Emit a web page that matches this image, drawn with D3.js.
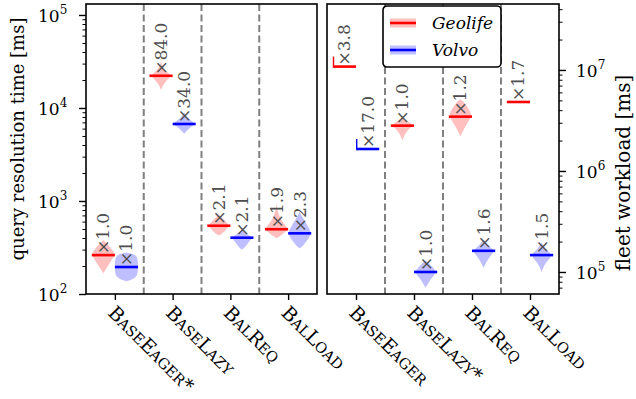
<!DOCTYPE html>
<html>
<head>
<meta charset="utf-8">
<script src="https://cdn.jsdelivr.net/npm/d3@7"></script>
<style>
  html, body { margin: 0; padding: 0; background: #fff; }
  svg { display: block; font-family: "DejaVu Serif", serif; }
</style>
</head>
<body>
<svg id="chart" width="636" height="399"></svg>
<script>
// --- Data ---

const series = ["Geolife", "Volvo"];
const queryCategories = ["BaseEager*", "BaseLazy", "BalReq", "BalLoad"];
const fleetCategories = ["BaseEager", "BaseLazy*", "BalReq", "BalLoad"];

// median query resolution time [ms]
const queryMedianGeolife = [262, 22200, 542, 497];
const queryMedianVolvo = [195, 6730, 403, 449];
const queryLabelGeolife = ["1.0", "84.0", "2.1", "1.9"];
const queryLabelVolvo = ["1.0", "34.0", "2.1", "2.3"];

// median fleet workload [ms]
const fleetMedianGeolife = [1.08e7, 2.81e6, 3.45e6, 4.82e6];
const fleetMedianVolvo = [1.65e6, 1.0e5, 1.62e5, 1.47e5];
const fleetLabelGeolife = ["3.8", "1.0", "1.2", "1.7"];
const fleetLabelVolvo = ["17.0", "1.0", "1.6", "1.5"];

// violin outlines: [value, relative half width]
const queryViolinGeolife = [
  [[380, 0], [330, 0.5], [280, 0.95], [262, 1], [230, 0.7], [200, 0.4], [178, 0.15], [168, 0]],
  [[32000, 0], [28000, 0.1], [25000, 0.4], [22500, 0.9], [21000, 0.7], [19000, 0.35], [17000, 0.1], [15500, 0]],
  [[720, 0], [650, 0.3], [560, 0.9], [520, 0.8], [470, 0.5], [440, 0.2], [425, 0]],
  [[950, 0], [750, 0.1], [620, 0.4], [520, 0.9], [490, 1], [450, 0.6], [420, 0.3], [400, 0]],
];
const queryViolinVolvo = [
  [[280, 0], [270, 0.6], [255, 0.9], [230, 1], [180, 1], [160, 0.95], [146, 0.7], [137, 0]],
  [[9000, 0], [8000, 0.2], [7000, 0.8], [6700, 1], [6300, 0.6], [5800, 0.3], [5300, 0]],
  [[500, 0], [450, 0.3], [410, 0.9], [390, 0.8], [350, 0.5], [320, 0.3], [300, 0]],
  [[760, 0], [650, 0.3], [560, 0.6], [470, 1], [420, 0.9], [370, 0.6], [330, 0.3], [310, 0]],
];
const fleetViolinGeolife = [
  null,
  [[3.4e6, 0], [3.0e6, 0.6], [2.8e6, 1], [2.6e6, 0.5], [2.3e6, 0.2], [2.0e6, 0]],
  [[5.1e6, 0], [4.7e6, 0.4], [4.0e6, 0.8], [3.5e6, 1], [3.0e6, 0.6], [2.6e6, 0.3], [2.2e6, 0]],
  null,
];
const fleetViolinVolvo = [
  null,
  [[1.3e5, 0], [1.15e5, 0.5], [1.0e5, 1], [9e4, 0.6], [8e4, 0.3], [7e4, 0]],
  [[2.1e5, 0], [1.8e5, 0.4], [1.62e5, 1], [1.45e5, 0.6], [1.3e5, 0.3], [1.1e5, 0]],
  [[1.95e5, 0], [1.65e5, 0.4], [1.47e5, 1], [1.3e5, 0.5], [1.15e5, 0.2], [1.0e5, 0]],
];
// single-run entries drawn as a short upright stroke
const fleetSingleRun = [true, false, false, false];

// --- Style ---

const LINE_COLORS = { Geolife: "#ff0000", Volvo: "#0000ff" };
const FILL_COLORS = { Geolife: "#ffbfbf", Volvo: "#bfbfff" };

const svg = d3.select("#chart");
const plotTop = 4, plotBottom = 294;

const panels = [
  {
    x0: 86, x1: 317, side: "left",
    categories: queryCategories,
    domain: [1e2, Math.pow(10, 5.118)],
    majors: [2, 3, 4, 5],
    medians: [queryMedianGeolife, queryMedianVolvo],
    labels: [queryLabelGeolife, queryLabelVolvo],
    violins: [queryViolinGeolife, queryViolinVolvo],
    single: [false, false, false, false],
    title: "query resolution time [ms]",
    titleX: 24, titleY: 139, titleSize: 18,
  },
  {
    x0: 327, x1: 559, side: "right",
    categories: fleetCategories,
    domain: [Math.pow(10, 4.782), Math.pow(10, 7.653)],
    majors: [5, 6, 7],
    medians: [fleetMedianGeolife, fleetMedianVolvo],
    labels: [fleetLabelGeolife, fleetLabelVolvo],
    violins: [fleetViolinGeolife, fleetViolinVolvo],
    single: fleetSingleRun,
    title: "fleet workload [ms]",
    titleX: 630, titleY: 173, titleSize: 20,
  },
];

panels.forEach(drawPanel);
drawLegend();

function minorTicks(domain) {
  const out = [];
  const lo = Math.floor(Math.log10(domain[0])), hi = Math.ceil(Math.log10(domain[1]));
  for (let e = lo; e <= hi; e++) {
    for (let k = 2; k <= 9; k++) {
      const v = k * Math.pow(10, e);
      if (v >= domain[0] && v <= domain[1]) out.push(v);
    }
  }
  return out;
}

// split a name into runs for hand-made small caps
function smallCapsRuns(name) {
  const runs = [];
  for (const ch of name) {
    const small = ch >= "a" && ch <= "z";
    const last = runs[runs.length - 1];
    if (last && last.small === small) last.text += small ? ch.toUpperCase() : ch;
    else runs.push({ small, text: small ? ch.toUpperCase() : ch });
  }
  return runs;
}

function drawPanel(p) {
  const x = d3.scaleLinear().domain([-0.5, 3.5]).range([p.x0, p.x1]);
  const y = d3.scaleLog().domain(p.domain).range([plotBottom, plotTop]);
  const step = x(1) - x(0);
  const hw = 0.2 * step;
  const g = svg.append("g");

  // separators
  g.append("g")
    .selectAll("line")
    .data([0.5, 1.5, 2.5])
    .join("line")
    .attr("x1", (d) => x(d)).attr("x2", (d) => x(d))
    .attr("y1", plotTop).attr("y2", plotBottom)
    .attr("stroke", "#808080")
    .attr("stroke-width", 2)
    .attr("stroke-dasharray", "7,3.5");

  const area = d3.area()
    .y((d) => y(d[0]))
    .curve(d3.curveBasis);

  series.forEach((s, si) => {
    const off = si === 0 ? -hw : hw;
    const cx = (i) => x(i) + off;

    // violins
    p.violins[si].forEach((v, i) => {
      if (!v) return;
      g.append("path")
        .datum(v)
        .attr("d", area.x0((d) => cx(i) - d[1] * hw).x1((d) => cx(i) + d[1] * hw))
        .attr("fill", FILL_COLORS[s]);
    });

    // medians
    g.append("g")
      .selectAll("line")
      .data(p.medians[si])
      .join("line")
      .attr("x1", (d, i) => cx(i) - hw)
      .attr("x2", (d, i) => cx(i) + hw)
      .attr("y1", (d) => y(d)).attr("y2", (d) => y(d))
      .attr("stroke", LINE_COLORS[s])
      .attr("stroke-width", 2.6);

    // single run strokes
    p.medians[si].forEach((d, i) => {
      if (!p.single[i]) return;
      g.append("line")
        .attr("x1", cx(i) - hw + 0.7).attr("x2", cx(i) - hw + 0.7)
        .attr("y1", y(d) - 1).attr("y2", y(d) - 10)
        .attr("stroke", LINE_COLORS[s])
        .attr("stroke-width", 1.4);
    });

    // speedup labels
    g.append("g")
      .selectAll("text")
      .data(p.medians[si])
      .join("text")
      .attr("transform", (d, i) => `translate(${cx(i) + 6},${y(d) - 1}) rotate(-90)`)
      .attr("font-size", 17)
      .attr("fill", "#4d4d4d")
      .text((d, i) => "×" + p.labels[si][i]);
  });

  // frame
  g.append("rect")
    .attr("x", p.x0).attr("y", plotTop)
    .attr("width", p.x1 - p.x0).attr("height", plotBottom - plotTop)
    .attr("fill", "none")
    .attr("stroke", "#000")
    .attr("stroke-width", 1.6);

  // x axis
  const xAxis = g.append("g")
    .attr("transform", `translate(0,${plotBottom})`)
    .call(d3.axisBottom(x).tickValues([0, 1, 2, 3]).tickSize(6).tickFormat(""));
  xAxis.select(".domain").remove();
  xAxis.selectAll("line").attr("stroke-width", 1.4);

  const cat = g.append("g")
    .selectAll("text")
    .data(p.categories)
    .join("text")
    .attr("transform", (d, i) => `translate(${x(i) - 8},${plotBottom + 20}) rotate(45)`);
  cat.selectAll("tspan")
    .data((d) => smallCapsRuns(d))
    .join("tspan")
    .attr("font-size", (r) => (r.small ? 14.5 : 19))
    .text((r) => r.text);

  // y axis
  const yPos = p.side === "left" ? p.x0 : p.x1;
  const makeAxis = p.side === "left" ? d3.axisLeft : d3.axisRight;
  const minor = g.append("g")
    .attr("transform", `translate(${yPos},0)`)
    .call(makeAxis(y).tickValues(minorTicks(p.domain)).tickSize(3.5).tickFormat(""));
  minor.select(".domain").remove();
  minor.selectAll("line").attr("stroke-width", 1);

  const majorVals = p.majors.map((e) => Math.pow(10, e));
  const major = g.append("g")
    .attr("transform", `translate(${yPos},0)`)
    .call(makeAxis(y).tickValues(majorVals).tickSize(7).tickFormat(""));
  major.select(".domain").remove();
  major.selectAll("line").attr("stroke-width", 1.4);

  const lab = g.append("g")
    .selectAll("text")
    .data(p.majors)
    .join("text")
    .attr("x", p.side === "left" ? yPos - 48 : yPos + 17)
    .attr("y", (e) => y(Math.pow(10, e)) + 7)
    .attr("font-size", 17);
  lab.append("tspan").text("10");
  lab.append("tspan").attr("dy", -8).attr("font-size", 12).text((e) => e);

  // axis title
  g.append("text")
    .attr("transform", `translate(${p.titleX},${p.titleY}) rotate(-90)`)
    .attr("text-anchor", "middle")
    .attr("font-size", p.titleSize)
    .text(p.title);
}

function drawLegend() {
  const lg = svg.append("g").attr("transform", "translate(383,6)");
  lg.append("rect")
    .attr("width", 118).attr("height", 61)
    .attr("rx", 4)
    .attr("fill", "#fff")
    .attr("stroke", "#000")
    .attr("stroke-width", 1.6);
  series.forEach((s, i) => {
    const yy = 17 + i * 27;
    lg.append("rect")
      .attr("x", 7).attr("y", yy - 4.5).attr("width", 26).attr("height", 9)
      .attr("fill", FILL_COLORS[s]);
    lg.append("line")
      .attr("x1", 7).attr("x2", 33).attr("y1", yy).attr("y2", yy)
      .attr("stroke", LINE_COLORS[s]).attr("stroke-width", 2.6);
    lg.append("text")
      .attr("x", 49).attr("y", yy + 6)
      .attr("font-size", 17)
      .attr("font-style", "italic")
      .text(s);
  });
}
</script>
</body>
</html>
